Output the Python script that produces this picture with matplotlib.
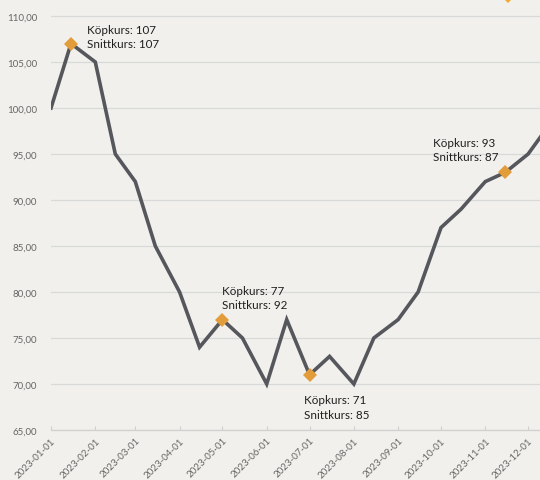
import matplotlib
matplotlib.use("Agg")
import matplotlib.pyplot as plt
import matplotlib.dates as mdates
import pandas as pd

dates = pd.to_datetime([
    "2023-01-01", "2023-01-15", "2023-02-01", "2023-02-15", "2023-03-01", "2023-03-15",
    "2023-04-01", "2023-04-15", "2023-05-01", "2023-05-15", "2023-06-01", "2023-06-15",
    "2023-07-01", "2023-07-15", "2023-08-01", "2023-08-15", "2023-09-01", "2023-09-15",
    "2023-10-01", "2023-10-15", "2023-11-01", "2023-11-15", "2023-12-01", "2023-12-15",
])
prices = [100, 107, 105, 95, 92, 85, 80, 74, 77, 75, 70, 77,
          71, 73, 70, 75, 77, 80, 87, 89, 92, 93, 95, 98]

buy_dates = pd.to_datetime(["2023-01-15", "2023-05-01", "2023-07-01", "2023-11-15"])
buy_prices = [107, 77, 71, 93]
avg_prices = [107, 92, 85, 87]

extra_date = pd.to_datetime(["2023-11-17"])
extra_value = [112.2]

tick_dates = pd.date_range("2023-01-01", "2023-12-01", freq="MS")
yticks = [65, 70, 75, 80, 85, 90, 95, 100, 105, 110]

plt.rcParams['font.family'] = ['Lato', 'DejaVu Sans']

bg = "#f1f0ec"
fig = plt.figure(figsize=(5.4, 4.81), dpi=100, facecolor=bg)
ax = fig.add_axes([51/540, 50/481, 520/540, 460/481])
ax.set_facecolor(bg)

ax.plot(dates, prices, color="#55575c", lw=2.6, solid_joinstyle="miter", zorder=2)
ax.plot(buy_dates, buy_prices, ls="none", marker="D", ms=7.5, color="#e39c3a",
        markeredgewidth=0, zorder=3)
ax.plot(extra_date, extra_value, ls="none", marker="D", ms=7.5, color="#f2a72e",
        markeredgewidth=0, zorder=3, clip_on=False)

# label offsets in pixels, alignment
offsets = [(16, 7, "left", "center"), (0, 22, "left", "center"),
           (-6, -32, "left", "center"), (-72, 23, "left", "center")]
for d, b, a, (dx, dy, ha, va) in zip(buy_dates, buy_prices, avg_prices, offsets):
    ax.annotate(f"Köpkurs: {b}\nSnittkurs: {a}", xy=(d, b), xytext=(dx, dy),
                textcoords="offset pixels", ha=ha, va=va, fontsize=8.4,
                color="#1f1f1f", linespacing=1.42)

ax.set_ylim(65, 115)
ax.set_xlim(pd.Timestamp("2023-01-01"), pd.Timestamp("2023-12-31"))
ax.set_yticks(yticks)
ax.set_yticklabels([f"{v},00" for v in yticks])
ax.set_xticks(tick_dates)
ax.set_xticklabels([d.strftime("%Y-%m-%d") for d in tick_dates], rotation=45,
                   ha="right", rotation_mode="anchor")
ax.tick_params(axis="y", length=0, labelsize=7, labelcolor="#666666", pad=10)
ax.tick_params(axis="x", length=3, direction="in", color="#d0d0d0", labelsize=7,
               labelcolor="#666666", pad=4)
ax.grid(axis="y", color="#d9d9d9", lw=0.9)
ax.set_axisbelow(True)
for s in ["top", "right", "left"]:
    ax.spines[s].set_visible(False)
ax.spines["bottom"].set_color("#d0d0d0")
ax.spines["bottom"].set_linewidth(0.9)

fig.savefig("out.png", dpi=100, facecolor=bg)
